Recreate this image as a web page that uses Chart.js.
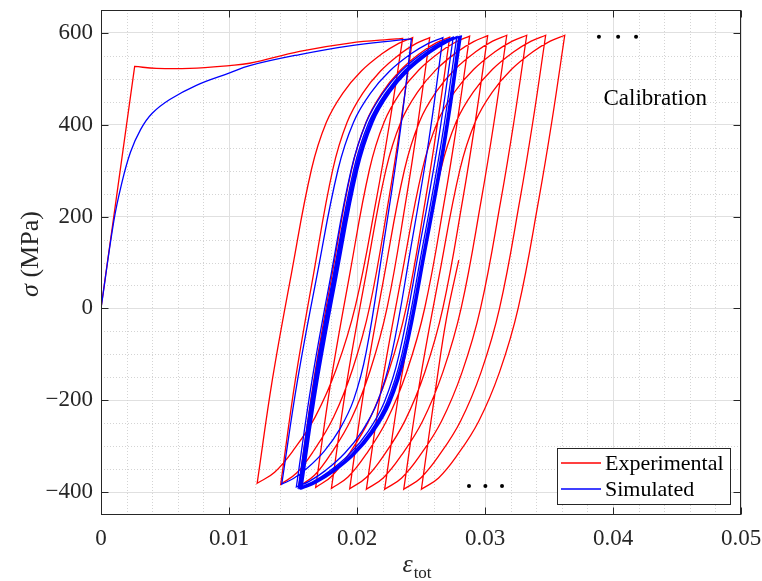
<!DOCTYPE html>
<html>
<head>
<meta charset="utf-8">
<script src="https://cdn.jsdelivr.net/npm/chart.js@4.4.1/dist/chart.umd.min.js"></script>
<style>
  html, body { margin: 0; padding: 0; background: #fff; }
</style>
</head>
<body>
<canvas id="chart" width="762" height="581"></canvas>
<script>
// strain (-) / stress (MPa)
const xTicks = [0, 0.01, 0.02, 0.03, 0.04, 0.05];
const yTicks = [-400, -200, 0, 200, 400, 600];

const expLoading = [[0, 0], [0.00263, 527], [0.00263, 527], [0.00433, 523], [0.00693, 523], [0.01005, 529],
  [0.01161, 534], [0.01552, 560], [0.01943, 578], [0.02308, 587], [0.02357, 588]];
const expTops = [[0.02357, 588], [0.02435, 590], [0.02568, 590], [0.02724, 591], [0.02880, 593],
  [0.03021, 594], [0.03170, 595], [0.03326, 595], [0.03474, 595], [0.03623, 595]];
const expBottoms = [[0.01220, -381], [0.01404, -383], [0.01545, -388], [0.01677, -390], [0.01800, -392],
  [0.01943, -393], [0.02073, -394], [0.02216, -394], [0.02365, -394], [0.02503, -394]];
const expTail = [[0.02503, -394], [0.02620, -164], [0.02700, -20], [0.02795, 105]];

const simLoading = [[0, 0], [0.00100, 190], [0.00160, 270], [0.00230, 340], [0.00310, 390], [0.00400, 425],
  [0.00537, 455], [0.00745, 486], [0.01005, 513], [0.01162, 529], [0.01552, 553], [0.01943, 572],
  [0.02308, 584], [0.02425, 587]];
const simTops = [[0.02425, 587], [0.02671, 590], [0.02752, 591], [0.02780, 592], [0.02795, 592],
  [0.02803, 592], [0.02810, 593], [0.02815, 593], [0.02820, 593]];
const simBottoms = [[0.01412, -383], [0.01526, -389], [0.01541, -391], [0.01549, -392],
  [0.01556, -392], [0.01561, -393], [0.01565, -393], [0.01569, -393]];

// branch shapes (fraction of strain span, fraction of stress span between two tips)
const reloadU = [0, 0.098, 0.22, 0.349, 0.445, 0.55, 0.67, 0.80, 0.91, 1];
const reloadV = [0, 0.233, 0.47, 0.704, 0.81, 0.875, 0.925, 0.963, 0.987, 1];
const unloadU = [0, 0.09, 0.18, 0.324, 0.455, 0.6, 0.75, 0.88, 1];
const unloadV = [0, 0.19, 0.36, 0.60, 0.742, 0.85, 0.925, 0.975, 1];

const topDots = [[0.0389, 592], [0.0404, 592], [0.0418, 592]];
const bottomDots = [[0.02875, -387], [0.03003, -387], [0.03133, -387]];
const note = { text: 'Calibration', x: 0.0433, y: 457 };

const toPt = ([x, y]) => ({ x, y });

function branch(from, to, us, vs) {
  return us.map((u, i) => ({
    x: from[0] + u * (to[0] - from[0]),
    y: from[1] + vs[i] * (to[1] - from[1]),
  }));
}

function series(loading, tops, bottoms, down, tail) {
  const pts = loading.map(toPt);
  for (let i = 0; i < bottoms.length; i++) {
    pts.push(...branch(tops[i], bottoms[i], down[0], down[1]));
    if (tops[i + 1]) pts.push(...branch(bottoms[i], tops[i + 1], reloadU, reloadV));
  }
  if (tail) pts.push(...tail.map(toPt));
  return pts;
}

const serif = "'Liberation Serif', 'Times New Roman', serif";
const axisColor = '#262626';

const frame = {
  id: 'frame',
  beforeDatasetsDraw(chart) {
    const { ctx, chartArea: a, scales: { x, y } } = chart;
    ctx.save();
    ctx.strokeStyle = '#d4d4d4';
    ctx.lineWidth = 1;
    ctx.setLineDash([1, 2]);
    ctx.beginPath();
    for (let k = 1; k < 25; k++) {
      if (k % 5 === 0) continue;
      const px = Math.round(x.getPixelForValue(k * 0.002)) + 0.5;
      ctx.moveTo(px, a.top); ctx.lineTo(px, a.bottom);
    }
    for (let v = -400; v < 650; v += 50) {
      if (v % 200 === 0) continue;
      const py = Math.round(y.getPixelForValue(v)) + 0.5;
      ctx.moveTo(a.left, py); ctx.lineTo(a.right, py);
    }
    ctx.stroke();
    ctx.restore();
  },
  afterDraw(chart) {
    const { ctx, chartArea: a, scales: { x, y } } = chart;
    ctx.save();
    ctx.strokeStyle = axisColor;
    ctx.lineWidth = 1;
    const L = Math.round(a.left) + 0.5, R = Math.round(a.right) - 0.5;
    const T = Math.round(a.top) + 0.5, B = Math.round(a.bottom) - 0.5;
    ctx.strokeRect(L, T, R - L, B - T);
    ctx.beginPath();
    xTicks.forEach(v => {
      const px = Math.round(x.getPixelForValue(v)) + 0.5;
      ctx.moveTo(px, B); ctx.lineTo(px, B - 7);
      ctx.moveTo(px, T); ctx.lineTo(px, T + 7);
    });
    yTicks.forEach(v => {
      const py = Math.round(y.getPixelForValue(v)) + 0.5;
      ctx.moveTo(L, py); ctx.lineTo(L + 7, py);
      ctx.moveTo(R, py); ctx.lineTo(R - 7, py);
    });
    ctx.stroke();

    // annotation
    ctx.fillStyle = '#000';
    ctx.font = `23px ${serif}`;
    ctx.textAlign = 'center';
    ctx.textBaseline = 'middle';
    ctx.fillText(note.text, x.getPixelForValue(note.x), y.getPixelForValue(note.y));

    // legend
    const lx = a.right - 184, ly = a.bottom - 67, lw = 173, lh = 56;
    ctx.fillStyle = '#fff';
    ctx.fillRect(lx, ly, lw, lh);
    ctx.strokeStyle = axisColor;
    ctx.strokeRect(Math.round(lx) + 0.5, Math.round(ly) + 0.5, lw, lh);
    chart.data.datasets.slice(0, 2).reverse().forEach((ds, i) => {
      const yy = ly + 15 + i * 26;
      ctx.strokeStyle = ds.borderColor;
      ctx.lineWidth = 1.3;
      ctx.beginPath();
      ctx.moveTo(lx + 4, yy); ctx.lineTo(lx + 44, yy);
      ctx.stroke();
      ctx.fillStyle = '#000';
      ctx.font = `22px ${serif}`;
      ctx.textAlign = 'left';
      ctx.fillText(ds.label, lx + 48, yy + 1);
    });

    // axis titles
    ctx.fillStyle = axisColor;
    ctx.textBaseline = 'alphabetic';
    ctx.textAlign = 'left';
    const cx = (a.left + a.right) / 2 - 4;
    ctx.font = `italic 26px ${serif}`;
    const ew = ctx.measureText('ε').width;
    ctx.font = `17px ${serif}`;
    const sw = ctx.measureText('tot').width;
    const x0 = cx - (ew + sw + 1) / 2;
    ctx.font = `italic 26px ${serif}`;
    ctx.fillText('ε', x0, 572);
    ctx.font = `17px ${serif}`;
    ctx.fillText('tot', x0 + ew + 1, 578);

    ctx.translate(38, 254);
    ctx.rotate(-Math.PI / 2);
    ctx.font = `italic 26px ${serif}`;
    const gw = ctx.measureText('σ').width;
    ctx.font = `26px ${serif}`;
    const rw = ctx.measureText(' (MPa)').width;
    ctx.font = `italic 26px ${serif}`;
    ctx.fillText('σ', -(gw + rw) / 2, 0);
    ctx.font = `26px ${serif}`;
    ctx.fillText(' (MPa)', -(gw + rw) / 2 + gw, 0);
    ctx.restore();
  },
};

new Chart(document.getElementById('chart'), {
  type: 'scatter',
  data: {
    datasets: [
      {
        label: 'Simulated',
        data: series(simLoading, simTops, simBottoms, [reloadU, reloadV]),
        borderColor: '#0000ff',
        borderWidth: 1.3,
        showLine: true,
        pointRadius: 0,
        tension: 0.4,
        order: 1,
      },
      {
        label: 'Experimental',
        data: series(expLoading, expTops, expBottoms, [unloadU, unloadV], expTail),
        borderColor: '#ff0000',
        borderWidth: 1.3,
        showLine: true,
        pointRadius: 0,
        tension: 0.4,
        order: 2,
      },
      {
        label: 'dots',
        data: topDots.concat(bottomDots).map(toPt),
        pointRadius: 2,
        pointBackgroundColor: '#000',
        pointBorderWidth: 0,
        order: 0,
      },
    ],
  },
  options: {
    responsive: false,
    animation: false,
    layout: { padding: { top: 10, right: 21, left: 0, bottom: 0 } },
    plugins: { legend: { display: false }, tooltip: { enabled: false } },
    scales: {
      x: {
        type: 'linear',
        min: 0,
        max: 0.05,
        afterBuildTicks: s => { s.ticks = xTicks.map(v => ({ value: v })); },
        afterFit: s => { s.height = 66; s.paddingLeft = 0; s.paddingRight = 0; },
        border: { display: false },
        grid: { color: '#e0e0e0', drawTicks: false },
        ticks: {
          padding: 10,
          maxRotation: 0,
          color: axisColor,
          font: { family: serif, size: 23 },
          callback: v => (v === 0 ? '0' : v.toFixed(2)),
        },
      },
      y: {
        type: 'linear',
        min: -450,
        max: 650,
        afterBuildTicks: s => { s.ticks = yTicks.map(v => ({ value: v })); },
        afterFit: s => { s.width = 101; s.paddingTop = 0; s.paddingBottom = 0; },
        border: { display: false },
        grid: { color: '#e0e0e0', drawTicks: false },
        ticks: {
          padding: 8,
          color: axisColor,
          font: { family: serif, size: 23 },
          callback: v => (v < 0 ? '\u2212' + (-v) : String(v)),
        },
      },
    },
  },
  plugins: [frame],
});
</script>
</body>
</html>
